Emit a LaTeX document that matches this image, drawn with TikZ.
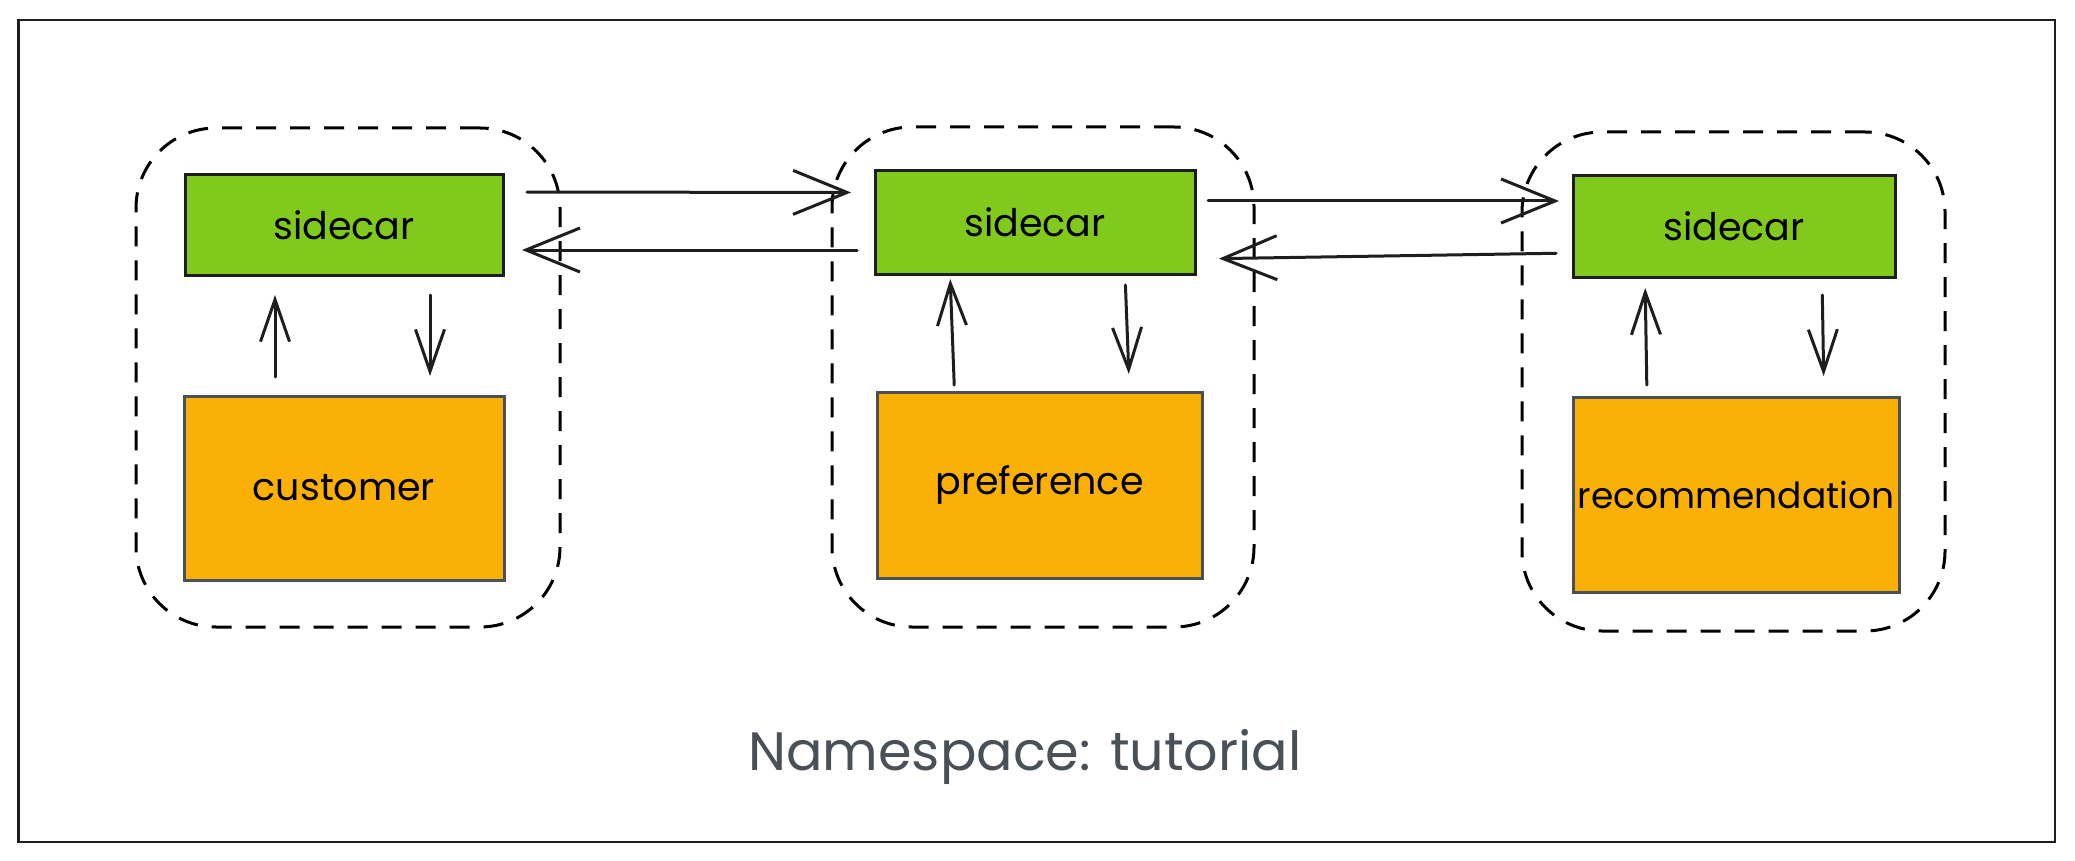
\documentclass[tikz,border=0pt]{standalone}
\usepackage{fontspec}
\setmainfont{Poppins}
\usetikzlibrary{arrows.meta}
\definecolor{sgreen}{HTML}{82C91E}
\definecolor{sorange}{HTML}{FAB005}
\definecolor{sgray}{HTML}{495057}
\definecolor{sink}{HTML}{1E1E1E}
\tikzset{
  sidebox/.style={draw=sink, fill=sgreen, line width=1.5pt, minimum width=#1, minimum height=50pt, outer sep=0pt, inner sep=0pt, text=black, font=\fontsize{19}{22}\selectfont},
  appbox/.style={draw=sgray, fill=sorange, line width=1.5pt, outer sep=0pt, inner sep=0pt, text=black, font=\fontsize{19}{22}\selectfont},
  podbox/.style={draw=black, dash pattern=on 10pt off 7pt, line width=1.5pt, rounded corners=40pt, outer sep=0pt, inner sep=0pt},
  hlink/.style={draw=sink, line width=1.5pt, line cap=round, -{Straight Barb[length=27pt,width=22pt,line width=1.5pt]}},
  vlink/.style={draw=sink, line width=1.5pt, line cap=round, -{Straight Barb[length=21pt,width=14.5pt,line width=1.5pt]}},
}
\begin{document}
\begin{tikzpicture}[x=0.5pt,y=-0.5pt]
\useasboundingbox (0,0) rectangle (2075,861);
% outer frame
\node[draw=sink, line width=1.3pt, minimum width=1018.25pt, minimum height=411pt, outer sep=0pt, inner sep=0pt] (frame) at (1036.75,431) {};
% pods
\node[podbox, minimum width=212pt, minimum height=249.5pt] (pod1) at (348,377.5) {};
\node[podbox, minimum width=211pt, minimum height=250pt] (pod2) at (1043,377) {};
\node[podbox, minimum width=211.5pt, minimum height=249.5pt] (pod3) at (1733.5,381.5) {};
% sidecars
\node[sidebox=159pt] (s1) at (344,225) {sidecar};
\node[sidebox=160pt, minimum height=51.5pt] (s2) at (1035,222.5) {sidecar};
\node[sidebox=161pt, minimum height=50.5pt] (s3) at (1734,226.5) {sidecar};
% apps
\node[appbox, minimum width=160pt, minimum height=92pt] (a1) at (344,488) {customer};
\node[appbox, minimum width=162.5pt, minimum height=93pt] (a2) at (1039.5,485) {preference};
\node[appbox, minimum width=163pt, minimum height=97.5pt, font=\fontsize{18}{22}\selectfont] (a3) at (1736,494.5) {recommendation};
% namespace label
\node[text=sgray, font=\fontsize{27}{32}\selectfont] (ns) at (1025,757) {Namespace: tutorial};
% vertical links
\draw[vlink, shorten <=9.5pt, shorten >=10pt] ([xshift=-34.5pt]a1.north) -- ([xshift=-34.5pt]s1.south);
\draw[vlink, shorten <=10pt, shorten >=10pt] ([xshift=43pt]s1.south) -- ([xshift=43pt]a1.north);
\draw[vlink, shorten <=3.5pt, shorten >=2.5pt] ([xshift=-42.5pt]a2.north) -- ([xshift=-42.5pt]s2.south);
\draw[vlink, shorten <=5.5pt, shorten >=9pt] ([xshift=45pt]s2.south) -- ([xshift=45pt]a2.north);
\draw[vlink, shorten <=6pt, shorten >=5.5pt] ([xshift=-44.5pt]a3.north) -- ([xshift=-44.5pt]s3.south);
\draw[vlink, shorten <=9pt, shorten >=10.5pt] ([xshift=44pt]s3.south) -- ([xshift=44pt]a3.north);
% horizontal links
\draw[hlink, shorten <=12pt, shorten >=12pt] ([yshift=16.5pt]s1.east) -- ([yshift=15pt]s2.west);
\draw[hlink, shorten <=9pt, shorten >=9.5pt] ([yshift=-13.75pt]s2.west) -- ([yshift=-12.5pt]s1.east);
\draw[hlink, shorten <=6.5pt, shorten >=7pt] ([yshift=10.75pt]s2.east) -- ([yshift=12.75pt]s3.west);
\draw[hlink, shorten <=8.5pt, shorten >=12pt] ([yshift=-13.25pt]s3.west) -- ([yshift=-18.25pt]s2.east);
\end{tikzpicture}
\end{document}
